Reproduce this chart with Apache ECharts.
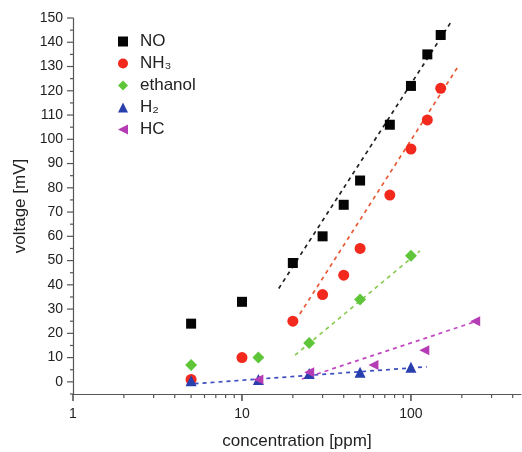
<!DOCTYPE html>
<html>
<head>
<meta charset="utf-8">
<script src="https://cdn.jsdelivr.net/npm/echarts@6/dist/echarts.min.js"></script>
<style>
  html, body { margin: 0; padding: 0; background: #fff; }
  #chart { width: 522px; height: 452px; }
</style>
</head>
<body>
<div id="chart"></div>
<script>
// measured points (concentration in ppm, voltage in mV)
var noX = [5, 10, 20, 30, 40, 50, 75, 100, 125, 150];
var noY = [24, 33, 49, 60, 73, 83, 106, 122, 135, 143];
var nh3X = [5, 10, 20, 30, 40, 50, 75, 100, 125, 150];
var nh3Y = [1, 10, 25, 36, 44, 55, 77, 96, 108, 121];
var ethX = [5, 12.5, 25, 50, 100];
var ethY = [7, 10, 16, 34, 52];
var h2X = [5, 12.5, 25, 50, 100];
var h2Y = [0.5, 1, 3.5, 4, 6];
var hcX = [12.5, 25, 60, 120, 240];
var hcY = [1, 4, 7, 13, 25];

// dashed fit lines, start and end points
var noFitX = [16.5, 175];
var noFitY = [38.5, 149];
var nh3FitX = [22, 190];
var nh3FitY = [28, 130];
var ethFitX = [20.6, 113];
var ethFitY = [11, 54];
var h2FitX = [4.7, 124];
var h2FitY = [-1, 6.2];
var hcFitX = [22.6, 233];
var hcFitY = [1.2, 24.5];

// axis ticks
var xTicks = [1, 2, 3, 4, 5, 6, 7, 8, 9, 10, 20, 30, 40, 50, 60, 70, 80, 90, 100, 200, 300, 400];
var xLabels = [1, 10, 100];
var yTicks = [-5, 0, 5, 10, 15, 20, 25, 30, 35, 40, 45, 50, 55, 60, 65, 70, 75, 80, 85, 90, 95, 100,
  105, 110, 115, 120, 125, 130, 135, 140, 145, 150];

var X_MIN = 1, X_MAX = 448, Y_MIN = -5, Y_MAX = 150;
var axisColor = '#555';
var font = '"Liberation Sans", Arial, sans-serif';
var leftTri = 'path://M10,0 L10,10 L0,5 Z';

function pairs (xs, ys) {
  return xs.map(function (x, i) { return [x, ys[i]] })
}

function pts (name, xs, ys, symbol, size, color) {
  return {
    name: name,
    type: 'scatter',
    data: pairs(xs, ys),
    symbol: symbol,
    symbolSize: size,
    itemStyle: { color: color, opacity: 1 },
    z: 5
  }
}

function fit (xs, ys, color) {
  return {
    name: 'fit',
    type: 'line',
    data: pairs(xs, ys),
    symbol: 'none',
    silent: true,
    lineStyle: { color: color, width: 1.7, type: [4, 4] },
    z: 3
  }
}

var isDecade = function (v) {
  var l = Math.log10(v);
  return Math.abs(l - Math.round(l)) < 1e-6;
};

var chart = echarts.init(document.getElementById('chart'));
var option = {
  backgroundColor: '#fff',
  animation: false,
  grid: { left: 73, right: 1, top: 18, bottom: 58, outerBoundsMode: 'none' },
  legend: {
    orient: 'vertical',
    left: 113,
    top: 28,
    itemWidth: 10,
    itemHeight: 10,
    itemGap: 5,
    data: ['NO', 'NH₃', 'ethanol', 'H₂', { name: 'HC', icon: leftTri }],
    textStyle: { fontFamily: font, fontSize: 17, color: '#222', padding: [0, 0, 0, 7] }
  },
  xAxis: {
    type: 'log',
    logBase: 10,
    min: X_MIN,
    max: X_MAX,
    name: 'concentration [ppm]',
    nameLocation: 'middle',
    nameGap: 39,
    nameTextStyle: { fontFamily: font, fontSize: 17, color: '#222' },
    axisLine: { onZero: false, lineStyle: { color: axisColor, width: 1.2 } },
    axisTick: { show: false },
    splitLine: { show: false },
    axisLabel: {
      showMaxLabel: false,
      margin: 13,
      fontFamily: font,
      fontSize: 14,
      color: '#222',
      formatter: function (v) {
        for (var i = 0; i < xLabels.length; i++) {
          if (Math.abs(v - xLabels[i]) < 1e-6 * xLabels[i]) return String(xLabels[i]);
        }
        return '';
      }
    }
  },
  yAxis: {
    type: 'value',
    min: Y_MIN,
    max: Y_MAX,
    interval: 5,
    name: 'voltage [mV]',
    nameLocation: 'middle',
    nameGap: 39,
    nameTextStyle: { fontFamily: font, fontSize: 17, color: '#222' },
    axisLine: { show: true, onZero: false, lineStyle: { color: axisColor, width: 1.2 } },
    axisTick: { show: false },
    splitLine: { show: false },
    axisLabel: {
      margin: 10,
      fontFamily: font,
      fontSize: 14,
      color: '#222',
      formatter: function (v) { return v % 10 === 0 ? String(v) : '' }
    }
  },
  series: [
    fit(noFitX, noFitY, '#222'),
    fit(nh3FitX, nh3FitY, '#e85a35'),
    fit(ethFitX, ethFitY, '#8ccc55'),
    fit(h2FitX, h2FitY, '#3d4fbf'),
    fit(hcFitX, hcFitY, '#c048c0'),
    pts('NO', noX, noY, 'rect', 10, '#050505'),
    pts('NH₃', nh3X, nh3Y, 'circle', 11, '#f2291c'),
    pts('ethanol', ethX, ethY, 'diamond', 12, '#5fc63a'),
    pts('H₂', h2X, h2Y, 'triangle', 11, '#2a3fae'),
    pts('HC', hcX, hcY, leftTri, 10, '#b43cb4'),
    {
      type: 'custom',
      silent: true,
      clip: false,
      data: xTicks.map(function (v) { return [v, Y_MIN] }),
      renderItem: function (params, api) {
        var v = api.value(0);
        var p = api.coord([v, Y_MIN]);
        var len = isDecade(v) ? 7 : 4;
        return {
          type: 'line',
          shape: { x1: p[0], y1: p[1], x2: p[0], y2: p[1] + len },
          style: { stroke: axisColor, lineWidth: isDecade(v) ? 1.6 : 1.2 }
        };
      },
      z: 1
    },
    {
      type: 'custom',
      silent: true,
      clip: false,
      data: yTicks.map(function (v) { return [X_MIN, v] }),
      renderItem: function (params, api) {
        var v = api.value(1);
        var p = api.coord([X_MIN, v]);
        var len = v % 10 === 0 ? 6 : 3;
        return {
          type: 'line',
          shape: { x1: p[0] - len, y1: p[1], x2: p[0], y2: p[1] },
          style: { stroke: axisColor, lineWidth: 1.2 }
        };
      },
      z: 1
    }
  ]
};
chart.setOption(option);
window.addEventListener('resize', function () { chart.resize() });
</script>
</body>
</html>
